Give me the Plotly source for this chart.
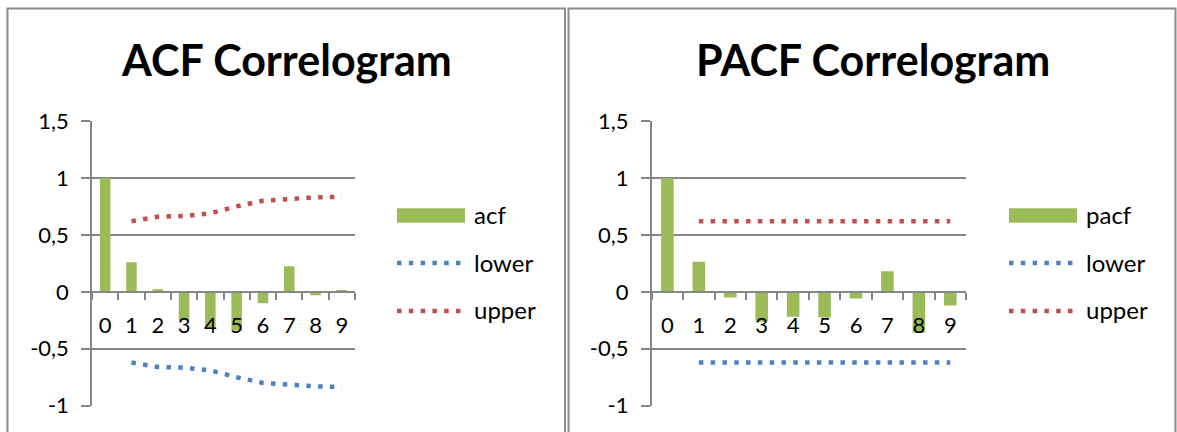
import plotly.graph_objects as go

# ---------------- data ----------------
lags = ["0", "1", "2", "3", "4", "5", "6", "7", "8", "9"]
acf = [1.0, 0.26, 0.022, -0.25, -0.32, -0.34, -0.10, 0.225, -0.03, 0.015]
acf_upper = [None, 0.62, 0.66, 0.665, 0.69, 0.75, 0.80, 0.815, 0.83, 0.835]
acf_lower = [None, -0.62, -0.66, -0.665, -0.69, -0.75, -0.80, -0.815, -0.83, -0.835]
pacf = [1.0, 0.263, -0.05, -0.263, -0.22, -0.225, -0.058, 0.18, -0.36, -0.12]
pacf_upper = [None, 0.62, 0.62, 0.62, 0.62, 0.62, 0.62, 0.62, 0.62, 0.62]
pacf_lower = [None, -0.62, -0.62, -0.62, -0.62, -0.62, -0.62, -0.62, -0.62, -0.62]
y_tick_vals = [-1, -0.5, 0, 0.5, 1, 1.5]
y_tick_text = ["-1", "-0,5", "0", "0,5", "1", "1,5"]
titles = ["ACF Correlogram", "PACF Correlogram"]

# ---------------- style ----------------
W, H = 1177, 432
FONT = "Lato, Carlito, Calibri, sans-serif"
GREEN = "#9BBB59"
BLUE = "#4F81BD"
RED = "#C0504D"
GRAY = "#868686"
DOT = "4.5px,7.3px"


def fx(px):
    return px / W


def fy(py):
    return 1 - py / H


Y_RANGE = [-1, 1.5]
y_dom = [fy(405.7), fy(121)]
zero_pos = y_dom[0] + (0 - Y_RANGE[0]) / (Y_RANGE[1] - Y_RANGE[0]) * (y_dom[1] - y_dom[0])

fig = go.Figure()

panels = [
    dict(vals=acf, up=acf_upper, lo=acf_lower, xa="x", ya="y",
         xdom=[fx(92), fx(355)]),
    dict(vals=pacf, up=pacf_upper, lo=pacf_lower, xa="x2", ya="y2",
         xdom=[fx(651.7), fx(966)]),
]

for p in panels:
    fig.add_trace(go.Bar(x=lags, y=p["vals"], marker=dict(color=GREEN, line=dict(width=0)),
                         xaxis=p["xa"], yaxis=p["ya"], showlegend=False))
    fig.add_trace(go.Scatter(x=lags, y=p["lo"], mode="lines",
                             line=dict(color=BLUE, width=4.5, dash=DOT),
                             xaxis=p["xa"], yaxis=p["ya"], showlegend=False))
    fig.add_trace(go.Scatter(x=lags, y=p["up"], mode="lines",
                             line=dict(color=RED, width=4.5, dash=DOT),
                             xaxis=p["xa"], yaxis=p["ya"], showlegend=False))

axis_font = dict(family=FONT, size=22, color="black")
for i, p in enumerate(panels):
    sfx = "" if i == 0 else str(i + 1)
    xa = dict(domain=p["xdom"], type="category", anchor="free", position=zero_pos,
              showline=True, linecolor=GRAY, linewidth=1.5,
              ticks="outside", tickson="boundaries", ticklen=7, tickcolor=GRAY, tickwidth=1.5,
              showgrid=False, tickfont=axis_font, ticklabelstandoff=14,
              range=[-0.5, 9.5], fixedrange=True, automargin=False)
    ya = dict(domain=y_dom, range=Y_RANGE, anchor=p["xa"],
              tickvals=y_tick_vals, ticktext=y_tick_text,
              showline=True, linecolor=GRAY, linewidth=1.5,
              ticks="outside", ticklen=9, tickcolor=GRAY, tickwidth=1.5,
              showgrid=True, gridcolor=GRAY, gridwidth=1.5, zeroline=False,
              tickfont=axis_font, ticklabelstandoff=8, fixedrange=True, automargin=False)
    fig.layout["xaxis" + sfx] = xa
    fig.layout["yaxis" + sfx] = ya

shapes = []
annotations = []
# chart area borders
for x0, x1 in [(7.5, 565), (568.5, 1175.5)]:
    shapes.append(dict(type="rect", xref="paper", yref="paper",
                       x0=fx(x0), x1=fx(x1), y0=fy(445), y1=fy(8.5),
                       line=dict(color="#8C8C8C", width=2), fillcolor="rgba(0,0,0,0)"))

# titles
for t, cx in zip(titles, [286, 873]):
    annotations.append(dict(text="<b>" + t + "</b>", xref="paper", yref="paper",
                            x=fx(cx), y=fy(60), xanchor="center", yanchor="middle",
                            showarrow=False, font=dict(family=FONT, size=43, color="black")))

# legends
legend_names = [["acf", "lower", "upper"], ["pacf", "lower", "upper"]]
legend_x = [397, 1009]
legend_w = [68, 68]
for names, lx, lw in zip(legend_names, legend_x, legend_w):
    shapes.append(dict(type="rect", xref="paper", yref="paper",
                       x0=fx(lx), x1=fx(lx + lw), y0=fy(222.7), y1=fy(208.3),
                       fillcolor=GREEN, line=dict(width=0)))
    for col, yy in [(BLUE, 263), (RED, 311)]:
        shapes.append(dict(type="line", xref="paper", yref="paper",
                           x0=fx(lx), x1=fx(lx + 64), y0=fy(yy), y1=fy(yy),
                           line=dict(color=col, width=4.5, dash=DOT)))
    for name, yy in zip(names, [214, 262, 309]):
        annotations.append(dict(text=name, xref="paper", yref="paper",
                                x=fx(lx + lw + 7), y=fy(yy), xanchor="left", yanchor="middle",
                                showarrow=False, font=dict(family=FONT, size=24, color="black")))

fig.update_layout(
    width=W, height=H,
    margin=dict(l=0, r=0, t=0, b=0, autoexpand=False),
    paper_bgcolor="white", plot_bgcolor="white",
    bargap=0.6,
    showlegend=False,
    separators=", ",
    shapes=shapes,
    annotations=annotations,
    font=dict(family=FONT, color="black"),
)

fig.write_html("out.html", config={"displayModeBar": False})
